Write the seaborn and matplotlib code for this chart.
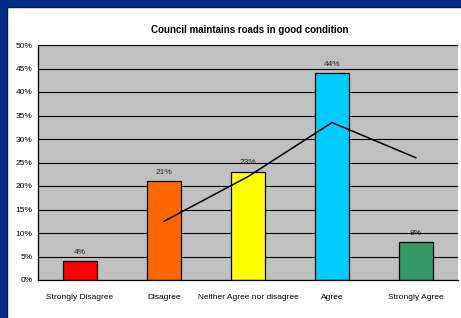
import numpy as np
import pandas as pd
import matplotlib
matplotlib.use("Agg")
import matplotlib.pyplot as plt
import seaborn as sns
from matplotlib.patches import Rectangle
from matplotlib.ticker import MultipleLocator, PercentFormatter

categories = ["Strongly Disagree", "Disagree", "Neither Agree nor disagree", "Agree", "Strongly Agree"]
values = [4, 21, 23, 44, 8]
bar_colors = ["#FF0000", "#FF6600", "#FFFF00", "#00CCFF", "#339966"]
# trend line (2-period moving average as drawn on the chart), from Disagree onwards
trend = [12.5, 22, 33.5, 26]

sns.set_style("white")
plt.rcParams["font.family"] = ["Liberation Sans", "DejaVu Sans"]
plt.rcParams["text.color"] = "black"
plt.rcParams["xtick.color"] = "black"
plt.rcParams["ytick.color"] = "black"

df = pd.DataFrame({"category": categories, "value": values})

fig = plt.figure(figsize=(4.61, 3.18), dpi=100)
fig.patch.set_facecolor("white")
# navy frame on top/left
fig.patches.append(Rectangle((0, 0), 1, 1, transform=fig.transFigure,
                             facecolor="#002B82", edgecolor="none", zorder=-2))
fig.patches.append(Rectangle((7 / 461, -0.1), 1, 1.1 - 7 / 318, transform=fig.transFigure,
                             facecolor="white", edgecolor="#001A50", linewidth=1, zorder=-1))

ax = fig.add_axes([38 / 461, 38 / 318, 420 / 461, 235 / 318])
ax.set_facecolor("#C0C0C0")

sns.barplot(data=df, x="category", y="value", hue="category", palette=bar_colors,
            saturation=1, legend=False, width=0.4, edgecolor="black", linewidth=0.9,
            ax=ax, zorder=2)

ax.plot(np.arange(1, 5), trend, color="black", linewidth=1.1, zorder=4)

for i, v in enumerate(values):
    ax.text(i, v + 1.2, f"{v}%", ha="center", va="bottom", fontsize=6, color="#222222")

ax.set_ylim(0, 50)
ax.set_xlim(-0.5, 4.5)
ax.yaxis.set_major_locator(MultipleLocator(5))
ax.yaxis.set_major_formatter(PercentFormatter(decimals=0))
ax.grid(axis="y", color="black", linewidth=0.8, zorder=0)
ax.set_axisbelow(True)

ax.set_xticks(np.arange(5))
ax.set_xticklabels(categories, fontsize=6)
ax.set_xticks(np.arange(-0.5, 5, 1), minor=True)
ax.tick_params(axis="x", which="major", length=0, pad=10)
ax.tick_params(axis="x", which="minor", length=4, width=0.8, color="black", direction="out")
ax.tick_params(axis="y", labelsize=6, length=3, width=0.8, color="black", pad=1, direction="out")
ax.set_xlabel("")
ax.set_ylabel("")

for s in ["top", "right"]:
    ax.spines[s].set_visible(False)
for s in ["left", "bottom"]:
    ax.spines[s].set_color("black")
    ax.spines[s].set_linewidth(0.9)

fig.text(0.5 + 19 / 461, 1 - 30 / 318, "Council maintains roads in good condition",
         ha="center", va="center", fontsize=7, fontweight="bold")

fig.savefig("out.png", dpi=100)
